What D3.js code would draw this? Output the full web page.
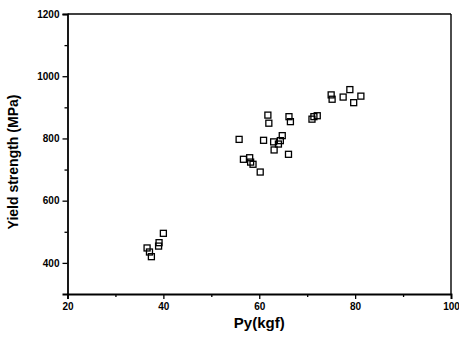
<!DOCTYPE html>
<html>
<head>
<meta charset="utf-8">
<script src="https://cdn.jsdelivr.net/npm/d3@7"></script>
<style>
  html, body { margin: 0; padding: 0; background: #fff; }
  svg { display: block; }
  text { font-family: "Liberation Sans", Arial, sans-serif; fill: #000; }
</style>
</head>
<body>
<svg id="chart" width="459" height="347"></svg>
<script>
// Data
const pyKgf = [36.6, 37.1, 37.5, 39.0, 39.1, 40.0,
  61.8, 62.0, 66.2, 66.5, 71.0, 71.4, 72.1,
  55.8, 60.9, 63.0, 64.0, 64.4, 64.8, 63.1, 66.1,
  56.7, 58.0, 58.2, 58.7, 60.2,
  75.0, 75.2, 77.5, 78.9, 79.7, 81.2];
const yieldMPa = [448, 435, 420, 454, 465, 495,
  875, 849, 870, 854, 862, 870, 873,
  797, 794, 789, 782, 793, 809, 763, 749,
  733, 738, 724, 717, 692,
  940, 926, 933, 957, 915, 936];
const xTicks = [20, 40, 60, 80, 100];
const xMinorTicks = [30, 50, 70, 90];
const yTicks = [400, 600, 800, 1000, 1200];
const yMinorTicks = [500, 700, 900, 1100];
const xTitle = "Py(kgf)";
const yTitle = "Yield strength (MPa)";

(function () {
const svg = d3.select("#chart");
const mL = 67.5, mR = 451, mT = 14, mB = 294;

const x = d3.scaleLinear().domain([20, 100]).range([mL, mR]);
const y = d3.scaleLinear().domain([300, 1200]).range([mB, mT]);

// frame (top & right)
svg.append("line").attr("x1", mL).attr("x2", mR).attr("y1", mT).attr("y2", mT)
  .attr("stroke", "#000").attr("stroke-width", 1.4);
svg.append("line").attr("x1", mR).attr("x2", mR).attr("y1", mT).attr("y2", mB)
  .attr("stroke", "#000").attr("stroke-width", 1.4);

// bottom axis
const gx = svg.append("g").attr("transform", `translate(0,${mB})`)
  .call(d3.axisBottom(x).tickValues(xTicks).tickFormat(d3.format("d")).tickSize(5).tickPadding(4));
const gxm = svg.append("g").attr("transform", `translate(0,${mB})`)
  .call(d3.axisBottom(x).tickValues(xMinorTicks).tickFormat("").tickSize(3));
gxm.select(".domain").remove();

// left axis
const gy = svg.append("g").attr("transform", `translate(${mL},0)`)
  .call(d3.axisLeft(y).tickValues(yTicks).tickFormat(d3.format("d")).tickSize(5).tickPadding(3));
const gym = svg.append("g").attr("transform", `translate(${mL},0)`)
  .call(d3.axisLeft(y).tickValues(yMinorTicks).tickFormat("").tickSize(3));
gym.select(".domain").remove();

[gx, gy, gxm, gym].forEach(g => {
  g.selectAll(".domain").attr("stroke", "#000").attr("stroke-width", 1.8);
  g.selectAll(".tick line").attr("stroke", "#000").attr("stroke-width", 1.3);
  g.selectAll(".tick text").attr("font-size", 10).attr("font-weight", "bold")
    .attr("font-family", "'Liberation Sans', Arial, sans-serif").attr("fill", "#000");
});

// axis titles
svg.append("text").attr("x", (mL + mR) / 2).attr("y", 328)
  .attr("text-anchor", "middle").attr("font-size", 15).attr("font-weight", "bold")
  .text(xTitle);
svg.append("text").attr("transform", `translate(18,${(mT + mB) / 2 + 8}) rotate(-90)`)
  .attr("text-anchor", "middle").attr("font-size", 14).attr("font-weight", "bold")
  .text(yTitle);

// points
const s = 6;
svg.append("g").selectAll("rect").data(pyKgf.map((d, i) => [d, yieldMPa[i]]))
  .join("rect")
  .attr("x", d => x(d[0]) - s / 2).attr("y", d => y(d[1]) - s / 2)
  .attr("width", s).attr("height", s)
  .attr("fill", "none").attr("stroke", "#000").attr("stroke-width", 1.3);
})();
</script>
</body>
</html>
